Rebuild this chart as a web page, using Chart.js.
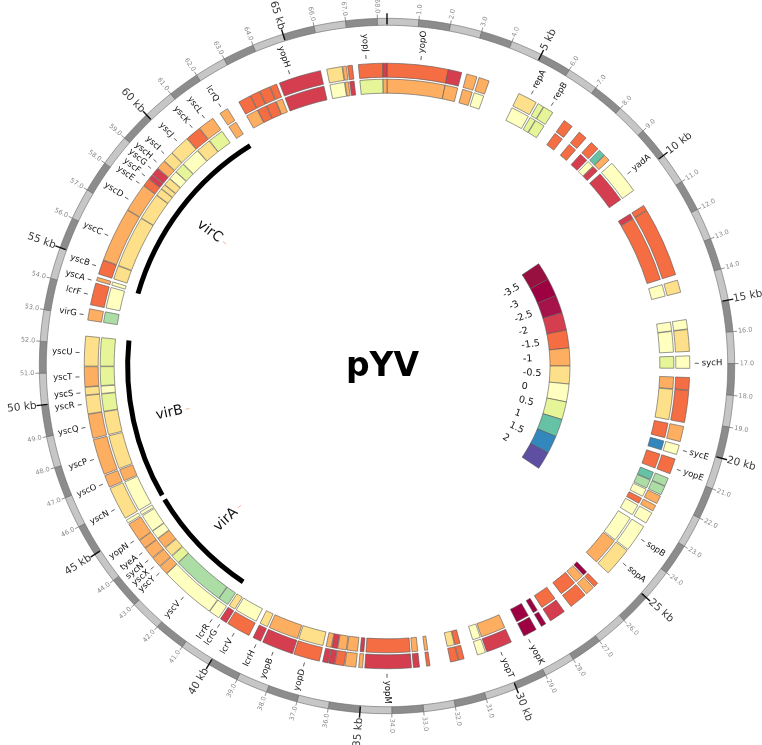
<!DOCTYPE html>
<html>
<head>
<meta charset="utf-8">
<script src="https://cdn.jsdelivr.net/npm/chart.js@4.4.0/dist/chart.umd.min.js"></script>
<style>
  html, body { margin: 0; padding: 0; background: #fff; }
</style>
</head>
<body>
<canvas id="pyv" width="762" height="745"></canvas>
<script>
const plasmidKb = 68.3

// genes (kb) with the level shown in the outer and in the inner ring
const geneStart = [0.00,2.22,2.90,3.36,4.90,5.68,5.92,6.80,7.48,8.05,8.45,8.72,9.10,11.00,11.22,13.95,15.40,15.76,16.71,17.49,17.96,19.26,19.95,20.47,21.20,21.52,21.90,22.28,22.58,23.15,24.20,25.78,26.00,26.40,27.35,28.15,28.55,29.55,30.55,31.35,31.57,32.60,32.98,33.27,35.03,35.27,35.70,36.05,36.28,36.60,37.60,38.83,39.30,40.23,40.55,40.97,43.02,43.38,43.78,44.22,44.57,45.30,45.50,46.75,47.25,48.60,49.50,50.18,50.48,51.22,52.88,53.44,54.33,54.58,55.12,57.12,58.17,58.47,58.67,58.97,59.32,59.72,60.47,61.05,61.95,62.74,63.22,63.59,63.99,64.35,66.12,66.70,66.88,67.27,68.15]
const geneEnd   = [2.22,2.71,3.28,3.74,5.60,5.90,6.30,7.15,7.80,8.38,8.70,8.95,10.35,11.20,13.74,14.40,15.74,16.55,17.16,17.94,19.12,19.82,20.30,21.03,21.50,21.85,22.20,22.50,23.00,24.15,25.25,25.95,26.33,27.05,27.95,28.33,29.05,30.50,30.85,31.55,31.85,32.72,33.20,34.95,35.17,35.67,36.03,36.26,36.48,37.55,38.75,39.13,40.17,40.48,40.95,43.00,43.35,43.75,44.20,44.55,45.25,45.42,46.70,47.20,48.55,49.48,50.16,50.46,51.20,52.30,53.29,54.24,54.46,55.10,57.10,58.15,58.45,58.65,58.95,59.30,59.70,60.45,61.03,61.64,62.27,63.20,63.57,63.97,64.24,65.89,66.68,66.83,67.05,68.15,68.30]
const outerLevel = [-1.5,-2,-1,-1,-0.5,0.5,0.5,-1.5,-1.5,-1.5,1,-1,0,-1.5,-1.5,-0.5,0,-0.5,0,-1.5,-1.5,-1,0,-1.5,0.75,0.75,-1,-1,0,0,-0.5,-1.5,-1,-1.5,-2,-3,-3,-2,0,-1.5,-1.5,-1.5,-2,-2,-1,-1,-1.5,-2,-2,-1.5,-2,-2,-1.5,-2,0,0,-1,-1,-1,-1,-1,0,-0.5,-1,-1,-1,-0.5,-0.5,-1,-0.5,-1,-1.5,-1,-1.5,-1,-1,-1.5,-2,-2,-1,-0.5,-0.5,-1.5,-1,-1,-1.5,-1.5,-1.5,-1.5,-2,-0.5,-1,-1.5,-1.5,-2]
const innerLevel = [-1,-1,-1,0,0,0.5,0.5,-1.5,-1.5,-2,0,-2,-2,-2,-1.5,0,0,0,0.5,-1,-0.5,-1.5,1.5,-1.5,1,0.75,0,-1.5,0,0,-1,-3,-1,-1.5,-1.5,-3,-3,-1,0,-1.5,-0.5,-1,-1,-1.5,-2,-1,-1,-2,-1,-0.5,-1,-0.5,0,-0.5,0.75,0.75,0.5,-0.5,-1,0,0,0,0,-1,-0.5,-0.5,0.5,0,0.5,0.5,0.75,0,0,-0.5,-0.5,-0.5,-0.5,-0.5,-0.5,0,0.5,0,-0.5,0.5,-1,-1,-1.5,-1.5,-1,-2,0,-1,-2,0.5,-1]

const geneNames = ["yopO","repA","repB","yadA","sycH","sycE","yopE","sopB","sopA","yopK","yopT","yopM","yopD","yopB","lcrH","lcrV","lcrG","lcrR","yscV","yscY","yscX","sycN","tyeA","yopN","yscN","yscO","yscP","yscQ","yscR","yscS","yscT","yscU","virG","lcrF","yscA","yscB","yscC","yscD","yscE","yscF","yscG","yscH","yscI","yscJ","yscK","yscL","lcrQ","yopH","yopJ"]
const geneNameKb = [1.2,5.31,6.12,9.75,16.98,20.1,20.8,23.58,24.64,28.95,30.03,34.15,37.1,38.27,38.93,39.8,40.4,40.72,42.0,43.2,43.5,43.8,44.14,44.65,45.95,46.94,47.87,49.04,49.86,50.27,50.84,51.7,53.05,53.79,54.3,54.83,55.98,57.45,58.13,58.46,58.8,59.1,59.5,60.13,60.85,61.4,62.1,64.8,67.56]

const regionNames = ["virA","virB","virC"]
const regionStart = [40.54,45.55,54.3]
const regionEnd = [45.35,52.3,62.26]

const legendValues = [-3.5,-3,-2.5,-2,-1.5,-1,-0.5,0,0.5,1,1.5,2]
const legendLabels = ["-3.5","-3","-2.5","-2","-1.5","-1","-0.5","0","0.5","1","1.5","2"]

const levelValues = [-3.5,-3,-2.5,-2,-1.5,-1,-0.5,0,0.5,0.75,1,1.5,2]
const levelColors = ["#98103f","#9e0142","#a5134a","#d53e4f","#f46d43","#fdae61","#fee08b","#ffffbf","#e6f598","#abdda4","#66c2a5","#3288bd","#5e4fa2"]

function colorOf(v){
    let best = 0
    levelValues.forEach((lv,i)=>{ if(Math.abs(lv-v) < Math.abs(levelValues[best]-v)) best = i })
    return levelColors[best]
}

const clear = "rgba(0,0,0,0)"

// turns start/end lists into gap, block, gap, block ... slices
function ringSlices(starts, ends, colors, border){
    let data = [], bg = [], bw = []
    let pos = 0
    starts.forEach((s,i)=>{
        data.push(Math.max(s-pos,0)); bg.push(clear); bw.push(0)
        data.push(ends[i]-s); bg.push(colors[i]); bw.push(border)
        pos = ends[i]
    })
    data.push(Math.max(plasmidKb-pos,0)); bg.push(clear); bw.push(0)
    return {data:data, backgroundColor:bg, borderWidth:bw}
}

let scaleSteps = []
for(let k=0;k<Math.floor(plasmidKb);k++) scaleSteps.push(1)
scaleSteps.push(plasmidKb-Math.floor(plasmidKb))

const outerRing = ringSlices(geneStart, geneEnd, outerLevel.map(colorOf), 0.6)
const innerRing = ringSlices(geneStart, geneEnd, innerLevel.map(colorOf), 0.6)
const regionRing = ringSlices(regionStart, regionEnd, regionStart.map(()=>"#000"), 0)

const legendFromDeg = 56, legendToDeg = 124
const legendStep = (legendToDeg-legendFromDeg)/legendValues.length
const legendData = [legendFromDeg].concat(legendValues.map(()=>legendStep)).concat([360-legendToDeg])
const legendBg = [clear].concat(legendValues.map(colorOf)).concat([clear])
const legendBw = [0].concat(legendValues.map(()=>0.6)).concat([0])

function spacer(w){
    return {data:[1], backgroundColor:[clear], borderWidth:0, weight:w}
}

function radialText(ctx, cx, cy, a, r, text){
    let t = ((a + Math.PI/2) % (2*Math.PI) + 2*Math.PI) % (2*Math.PI)
    ctx.save()
    ctx.translate(cx, cy)
    ctx.rotate(a)
    ctx.textBaseline = "middle"
    if(t <= Math.PI + 0.004){
        ctx.textAlign = "left"
        ctx.fillText(text, r, 0)
    }else{
        ctx.rotate(Math.PI)
        ctx.textAlign = "right"
        ctx.fillText(text, -r, 0)
    }
    ctx.restore()
}

function radialLine(ctx, cx, cy, a, r1, r2){
    ctx.beginPath()
    ctx.moveTo(cx + r1*Math.cos(a), cy + r1*Math.sin(a))
    ctx.lineTo(cx + r2*Math.cos(a), cy + r2*Math.sin(a))
    ctx.stroke()
}

const labelsPlugin = {
    id: "plasmidLabels",
    afterDatasetsDraw(chart){
        const ctx = chart.ctx
        const scaleArcs = chart.getDatasetMeta(0).data
        const cx = scaleArcs[0].x, cy = scaleArcs[0].y
        const rScale = scaleArcs[0].outerRadius
        const rGenes = chart.getDatasetMeta(2).data[0].outerRadius
        const rRegion = chart.getDatasetMeta(6).data[0].innerRadius
        const kbAngle = (kb)=>{
            let i = Math.min(Math.floor(kb), scaleArcs.length-1)
            let arc = scaleArcs[i]
            return arc.startAngle + (kb-i)/scaleSteps[i]*(arc.endAngle-arc.startAngle)
        }

        // kb ticks and tick labels
        scaleArcs.forEach((arc,k)=>{
            let a = arc.startAngle
            if(k%5===0){
                ctx.strokeStyle = "#111"; ctx.lineWidth = 1.4
                radialLine(ctx, cx, cy, a, rScale-6, rScale+5)
                if(k>0){
                    ctx.fillStyle = "#3a3a3a"; ctx.font = "10.5px 'DejaVu Sans'"
                    radialText(ctx, cx, cy, a, rScale+5, k + " kb")
                }
            }else{
                ctx.strokeStyle = "#777"; ctx.lineWidth = 0.8
                radialLine(ctx, cx, cy, a, rScale, rScale+4)
                ctx.fillStyle = "#888"; ctx.font = "6.5px 'DejaVu Sans'"
                radialText(ctx, cx, cy, a, rScale+5, k + ".0")
            }
        })

        // gene names
        ctx.font = "8.5px 'DejaVu Sans'"
        ctx.fillStyle = "#111"; ctx.strokeStyle = "#333"; ctx.lineWidth = 0.8
        geneNames.forEach((name,i)=>{
            let a = kbAngle(geneNameKb[i])
            radialLine(ctx, cx, cy, a, rGenes+5, rGenes+9)
            radialText(ctx, cx, cy, a, rGenes+12, name)
        })

        // region names
        regionNames.forEach((name,i)=>{
            let a = kbAngle((regionStart[i]+regionEnd[i])/2)
            ctx.strokeStyle = "#f4a582"; ctx.lineWidth = 0.8
            radialLine(ctx, cx, cy, a, rRegion-55, rRegion-51)
            ctx.fillStyle = "#111"; ctx.font = "14px 'DejaVu Sans'"
            radialText(ctx, cx, cy, a, rRegion-48, name)
        })

        // colour key labels
        const legendArcs = chart.getDatasetMeta(8).data
        ctx.fillStyle = "#111"; ctx.font = "9.5px 'DejaVu Sans'"
        legendLabels.forEach((txt,i)=>{
            let arc = legendArcs[i+1]
            radialText(ctx, cx, cy, (arc.startAngle+arc.endAngle)/2, arc.innerRadius-27, txt)
        })

        ctx.save()
        ctx.fillStyle = "#000"; ctx.font = "bold 33px 'DejaVu Sans'"
        ctx.textAlign = "center"; ctx.textBaseline = "alphabetic"
        ctx.fillText("pYV", cx-4.5, cy+10)
        ctx.restore()
    }
}

const cvs = document.getElementById("pyv")
new Chart(cvs, {
    type: "doughnut",
    data: {
        datasets: [
            {data: scaleSteps, backgroundColor: scaleSteps.map((v,i)=> i%2===0 ? "#c6c6c6" : "#8c8c8c"),
             borderColor: "#6a6a6a", borderWidth: 0.6, weight: 7},
            spacer(38),
            Object.assign(outerRing, {borderColor: "#555", weight: 14}),
            spacer(2),
            Object.assign(innerRing, {borderColor: "#555", weight: 14}),
            spacer(11),
            Object.assign(regionRing, {weight: 5}),
            spacer(74),
            {data: legendData, backgroundColor: legendBg, borderWidth: legendBw, borderColor: "#555", weight: 20}
        ]
    },
    options: {
        responsive: false,
        animation: false,
        events: [],
        cutout: 163,
        layout: {padding: {left: 39, top: 18, right: 27, bottom: 31}},
        plugins: {legend: {display: false}, tooltip: {enabled: false}}
    },
    plugins: [labelsPlugin]
})
</script>
</body>
</html>
